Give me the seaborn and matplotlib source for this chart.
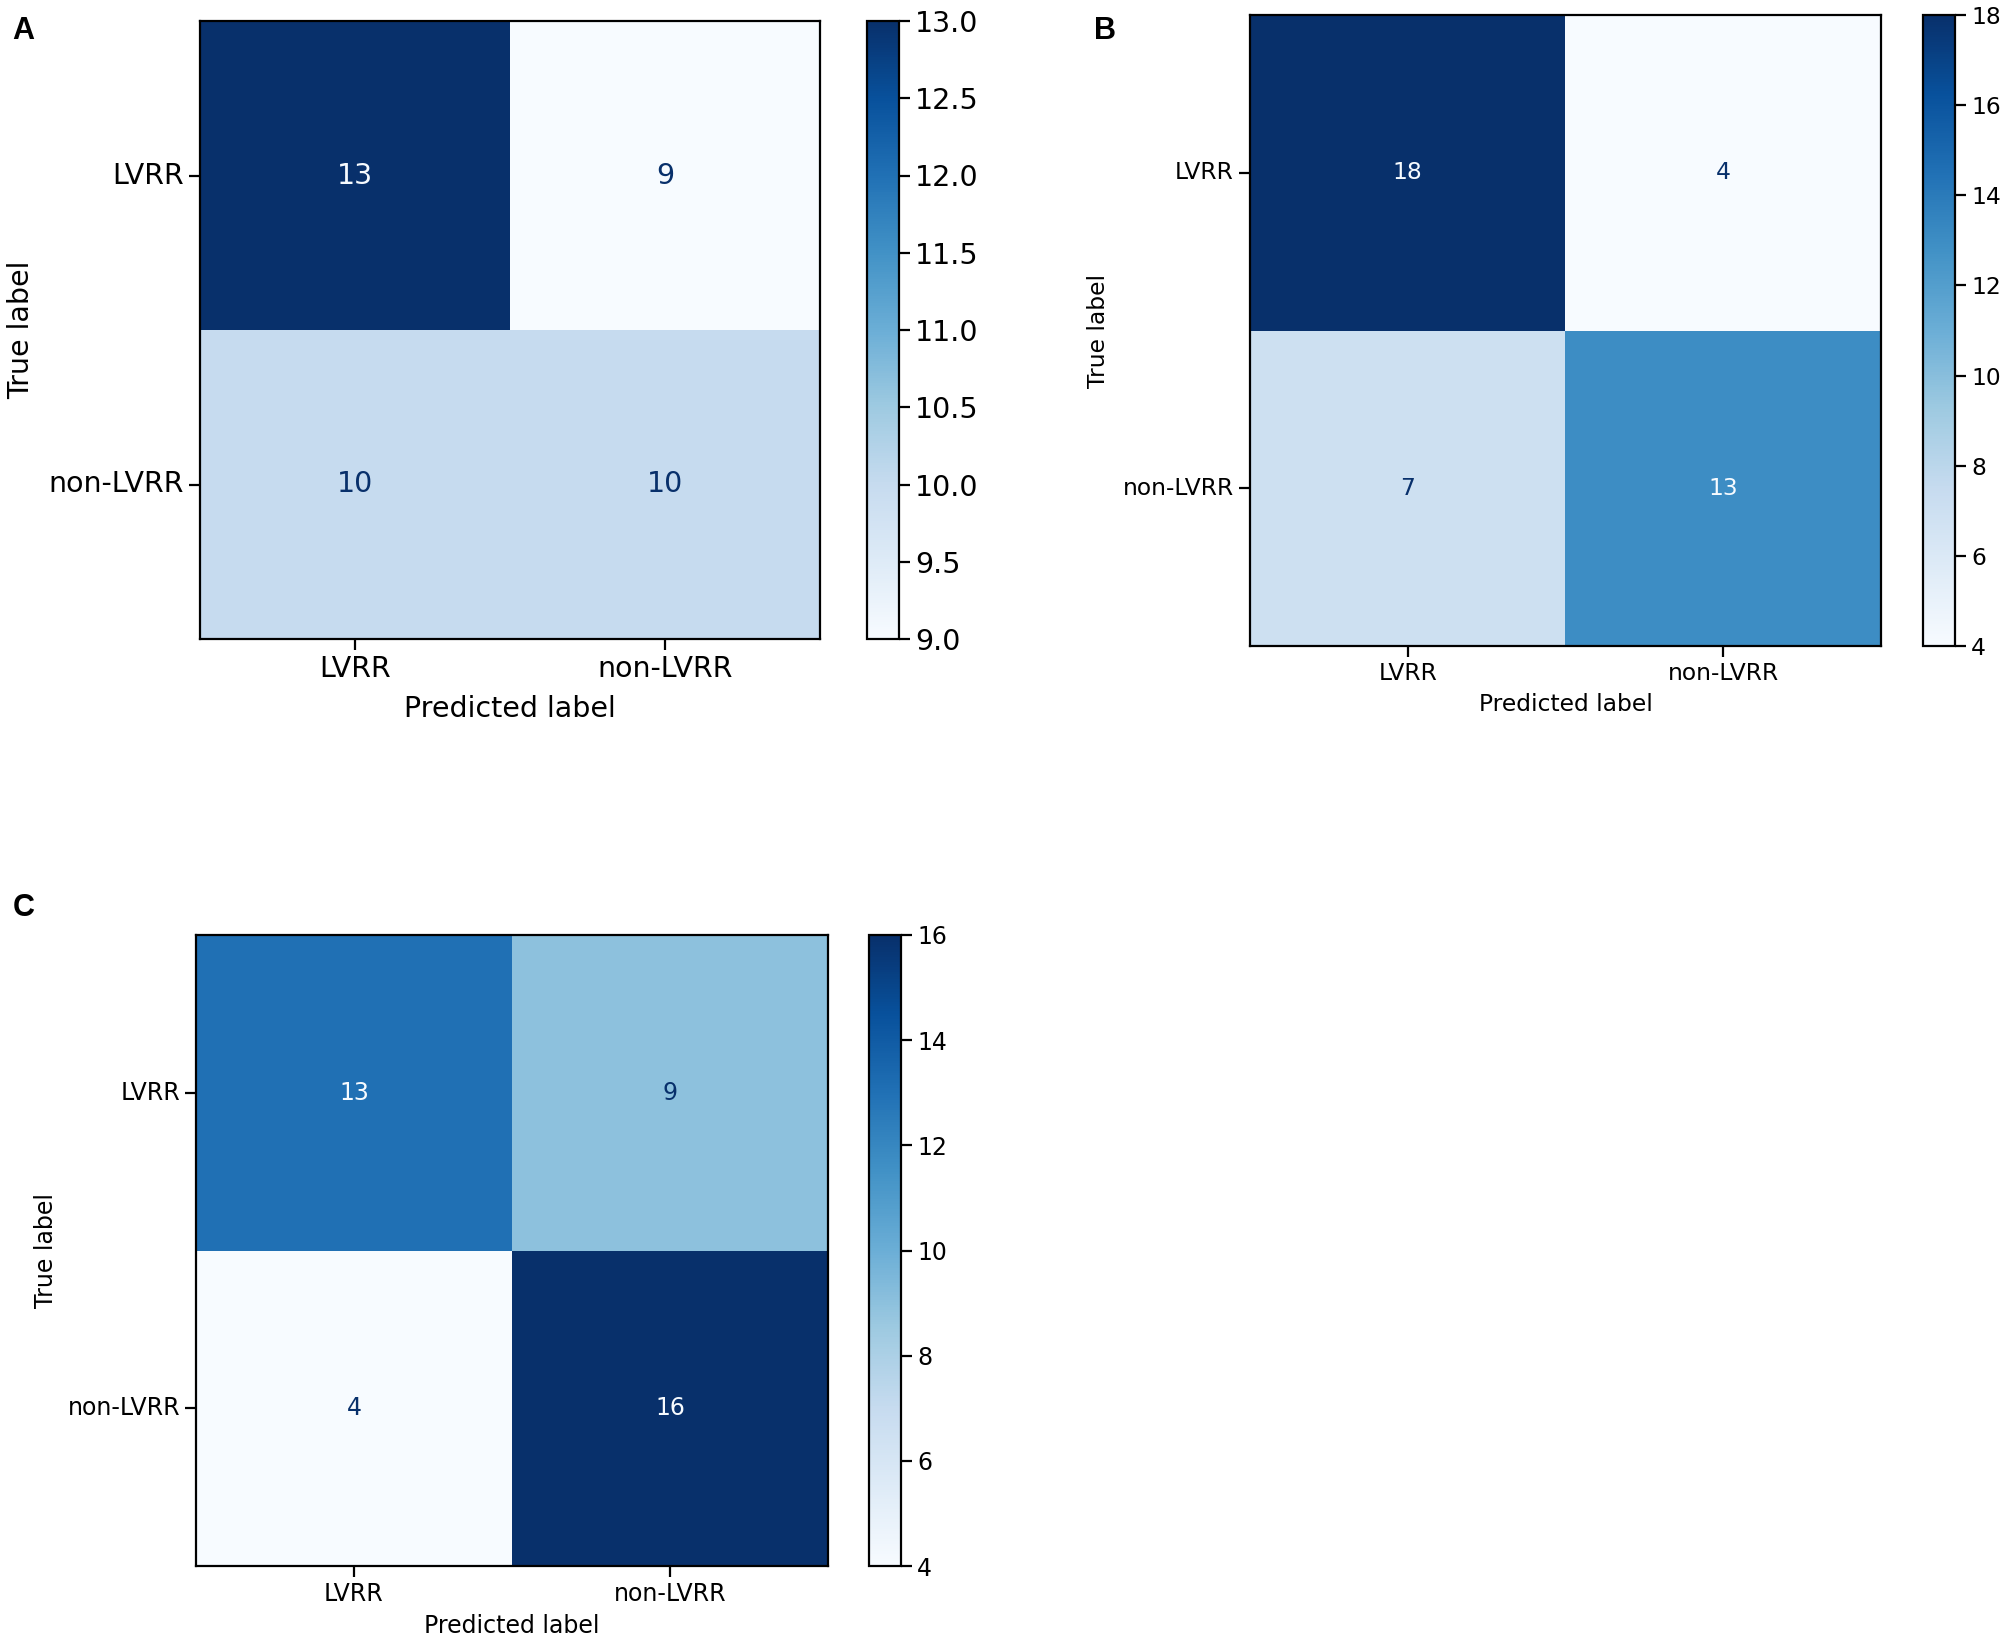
import matplotlib
matplotlib.use("Agg")
import matplotlib.pyplot as plt
import seaborn as sns
import numpy as np

# confusion matrices (rows = true, cols = predicted)
class_names = ["LVRR", "non-LVRR"]
cm_a = [[13, 9], [10, 10]]
cm_b = [[18, 4], [7, 13]]
cm_c = [[13, 9], [4, 16]]

cbar_ticks_a = [9.0, 9.5, 10.0, 10.5, 11.0, 11.5, 12.0, 12.5, 13.0]
cbar_ticks_b = [4, 6, 8, 10, 12, 14, 16, 18]
cbar_ticks_c = [4, 6, 8, 10, 12, 14, 16]

W, H = 2008, 1641
plt.rcParams['font.family'] = ['DejaVu Sans']


def px_rect(l, t, r, b):
    return [l / W, 1 - b / H, (r - l) / W, (b - t) / H]


def draw_cm(fig, ax_rect, cax_rect, cm, ticks, fs, fmt_ticks, xpad=6, ypad=7):
    ax = fig.add_axes(px_rect(*ax_rect))
    cax = fig.add_axes(px_rect(*cax_rect))
    cm = np.array(cm)
    sns.heatmap(cm, ax=ax, cbar_ax=cax, cmap="Blues", annot=True, fmt="d",
                annot_kws={"size": fs}, xticklabels=class_names,
                yticklabels=class_names, square=False)
    # sklearn-style text colours: dark text on light cells, light text on dark cells
    cmap = plt.get_cmap("Blues")
    thresh = (cm.max() + cm.min()) / 2.0
    for t in ax.texts:
        v = float(t.get_text())
        t.set_color(cmap(1.0) if v < thresh else cmap(0.0))
    for sp in ax.spines.values():
        sp.set_visible(True)
        sp.set_linewidth(1.6)
        sp.set_color("black")
    ax.tick_params(axis="both", length=8, width=1.6, labelsize=fs)
    ax.set_yticklabels(class_names, rotation=0, va="center")
    ax.set_xticklabels(class_names, rotation=0)
    ax.set_xlabel("Predicted label", fontsize=fs, labelpad=xpad)
    ax.set_ylabel("True label", fontsize=fs, labelpad=ypad)

    cb = ax.collections[0].colorbar
    cb.outline.set_visible(True)
    cb.outline.set_linewidth(1.6)
    cb.outline.set_edgecolor("black")
    cb.set_ticks(ticks)
    cb.set_ticklabels([fmt_ticks.format(v) for v in ticks])
    cax.tick_params(length=8, width=1.6, labelsize=fs)
    return ax


fig = plt.figure(figsize=(W / 100, H / 100), dpi=100)

draw_cm(fig, (200, 21, 820, 639), (867, 21, 899, 639), cm_a, cbar_ticks_a, 20.5, "{:.1f}",
        xpad=9, ypad=10)
draw_cm(fig, (1250, 15, 1881, 646), (1923, 15, 1955, 646), cm_b, cbar_ticks_b, 16.8, "{:d}",
        xpad=6, ypad=9)
draw_cm(fig, (196, 935, 828, 1566), (869, 935, 901, 1566), cm_c, cbar_ticks_c, 17, "{:d}",
        xpad=6, ypad=7)

# panel letters
for letter, x, y in [("A", 12, 39), ("B", 1094, 39), ("C", 13, 916)]:
    fig.text(x / W, 1 - y / H, letter, fontsize=22, fontweight="bold",
             family=["Liberation Sans", "DejaVu Sans"], ha="left", va="baseline")

fig.savefig("out.png", dpi=100, facecolor="white")
